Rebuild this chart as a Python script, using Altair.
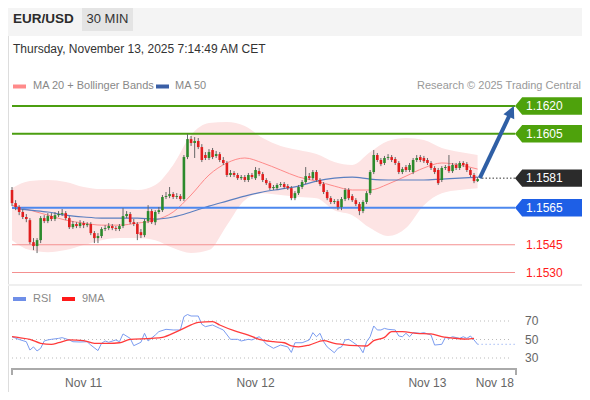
import altair as alt
import pandas as pd

FONT = "Liberation Sans"
W, H = 574, 384

# ---- 30-min candles (EUR/USD) ----
opens = [1.15746,1.15675,1.15654,1.15627,1.15600,1.15583,1.15464,1.15443,1.15475,1.15594,
         1.15578,1.15605,1.15589,1.15610,1.15616,1.15621,1.15594,1.15545,1.15562,1.15551,
         1.15567,1.15556,1.15562,1.15513,1.15486,1.15497,1.15535,1.15540,1.15551,1.15540,
         1.15535,1.15551,1.15605,1.15616,1.15572,1.15562,1.15518,1.15502,1.15578,1.15632,
         1.15572,1.15627,1.15637,1.15708,1.15713,1.15724,1.15708,1.15713,1.15697,1.15924,
         1.16021,1.16000,1.16011,1.15978,1.15935,1.15919,1.15962,1.15930,1.15940,1.15908,
         1.15892,1.15827,1.15838,1.15827,1.15810,1.15816,1.15800,1.15827,1.15810,1.15848,
         1.15832,1.15800,1.15783,1.15756,1.15756,1.15773,1.15778,1.15767,1.15756,1.15702,
         1.15729,1.15762,1.15789,1.15821,1.15810,1.15843,1.15800,1.15778,1.15735,1.15702,
         1.15681,1.15686,1.15654,1.15697,1.15746,1.15713,1.15691,1.15670,1.15632,1.15681,
         1.15729,1.15843,1.15935,1.15908,1.15892,1.15919,1.15924,1.15913,1.15892,1.15843,
         1.15870,1.15854,1.15843,1.15908,1.15924,1.15919,1.15908,1.15892,1.15865,1.15854,
         1.15800,1.15865,1.15875,1.15848,1.15881,1.15865,1.15892,1.15886,1.15854,1.15827,
         1.15794]
closes = [1.15675,1.15654,1.15627,1.15600,1.15589,1.15464,1.15443,1.15475,1.15594,1.15578,
          1.15605,1.15589,1.15610,1.15616,1.15621,1.15594,1.15545,1.15562,1.15551,1.15567,
          1.15556,1.15562,1.15513,1.15486,1.15497,1.15535,1.15540,1.15551,1.15540,1.15535,
          1.15551,1.15605,1.15616,1.15572,1.15562,1.15508,1.15502,1.15578,1.15632,1.15572,
          1.15627,1.15637,1.15708,1.15713,1.15724,1.15708,1.15713,1.15697,1.15924,1.16021,
          1.16000,1.16011,1.15978,1.15908,1.15919,1.15951,1.15924,1.15940,1.15908,1.15892,
          1.15827,1.15838,1.15827,1.15810,1.15816,1.15800,1.15827,1.15816,1.15854,1.15832,
          1.15800,1.15783,1.15756,1.15762,1.15773,1.15778,1.15762,1.15756,1.15702,1.15729,
          1.15762,1.15789,1.15821,1.15810,1.15843,1.15800,1.15778,1.15735,1.15702,1.15681,
          1.15686,1.15654,1.15697,1.15746,1.15702,1.15691,1.15670,1.15632,1.15681,1.15729,
          1.15843,1.15935,1.15908,1.15886,1.15919,1.15924,1.15908,1.15892,1.15843,1.15859,
          1.15854,1.15881,1.15908,1.15919,1.15908,1.15902,1.15892,1.15865,1.15843,1.15783,
          1.15865,1.15870,1.15848,1.15881,1.15865,1.15892,1.15881,1.15854,1.15827,1.15794,
          1.15805]
highs = [1.15762,1.15691,1.15664,1.15643,1.15616,1.15594,1.15486,1.15486,1.15605,1.15610,
         1.15621,1.15621,1.15627,1.15632,1.15643,1.15632,1.15605,1.15578,1.15572,1.15583,
         1.15578,1.15572,1.15572,1.15524,1.15513,1.15545,1.15556,1.15567,1.15562,1.15551,
         1.15562,1.15648,1.15632,1.15627,1.15589,1.15572,1.15535,1.15589,1.15664,1.15643,
         1.15637,1.15654,1.15719,1.15735,1.15762,1.15735,1.15729,1.15724,1.15935,1.16049,
         1.16038,1.16032,1.16027,1.15994,1.15951,1.15967,1.15973,1.15957,1.15951,1.15924,
         1.15902,1.15854,1.15848,1.15838,1.15827,1.15827,1.15838,1.15838,1.15870,1.15865,
         1.15843,1.15810,1.15794,1.15773,1.15783,1.15789,1.15789,1.15778,1.15767,1.15740,
         1.15773,1.15800,1.15870,1.15838,1.15854,1.15854,1.15810,1.15789,1.15746,1.15713,
         1.15697,1.15697,1.15708,1.15756,1.15756,1.15724,1.15702,1.15681,1.15691,1.15740,
         1.15854,1.15962,1.15946,1.15919,1.15930,1.15940,1.15935,1.15924,1.15902,1.15870,
         1.15881,1.15892,1.15919,1.15935,1.15935,1.15930,1.15919,1.15902,1.15875,1.15865,
         1.15875,1.15881,1.15935,1.15892,1.15892,1.15902,1.15902,1.15897,1.15865,1.15838,
         1.15816]
lows = [1.15659,1.15637,1.15610,1.15589,1.15572,1.15453,1.15421,1.15405,1.15459,1.15567,
        1.15567,1.15578,1.15578,1.15600,1.15605,1.15583,1.15535,1.15535,1.15540,1.15540,
        1.15540,1.15545,1.15502,1.15459,1.15459,1.15486,1.15524,1.15529,1.15529,1.15524,
        1.15524,1.15540,1.15594,1.15562,1.15551,1.15475,1.15486,1.15491,1.15567,1.15562,
        1.15556,1.15616,1.15627,1.15697,1.15702,1.15697,1.15697,1.15686,1.15686,1.15913,
        1.15984,1.15919,1.15967,1.15897,1.15908,1.15908,1.15913,1.15919,1.15897,1.15881,
        1.15816,1.15816,1.15816,1.15800,1.15800,1.15789,1.15789,1.15805,1.15800,1.15821,
        1.15789,1.15773,1.15746,1.15746,1.15746,1.15762,1.15751,1.15746,1.15691,1.15691,
        1.15719,1.15751,1.15778,1.15800,1.15800,1.15789,1.15767,1.15724,1.15691,1.15670,
        1.15670,1.15637,1.15637,1.15686,1.15691,1.15681,1.15659,1.15610,1.15621,1.15670,
        1.15719,1.15832,1.15897,1.15875,1.15881,1.15908,1.15897,1.15881,1.15832,1.15832,
        1.15843,1.15843,1.15832,1.15897,1.15897,1.15892,1.15881,1.15854,1.15832,1.15773,
        1.15789,1.15854,1.15838,1.15838,1.15854,1.15854,1.15870,1.15843,1.15816,1.15783,
        1.15789]

# ---- MA 20 + Bollinger Bands, MA 50 (sampled every 5 candles) ----
band_idx = [0,5,10,15,20,25,30,35,40,45,50,55,60,65,70,75,80,85,90,95,100,105,110,115,120,125,130]
bb_upper = [1.15756,1.15794,1.15800,1.15789,1.15762,1.15751,1.15751,1.15746,1.15773,1.15881,
            1.16043,1.16108,1.16114,1.16092,1.16027,1.15984,1.15962,1.15940,1.15897,1.15881,
            1.15951,1.16011,1.16027,1.16016,1.15973,1.15951,1.15935]
bb_lower = [1.15475,1.15421,1.15410,1.15421,1.15448,1.15475,1.15486,1.15486,1.15475,1.15432,
            1.15405,1.15421,1.15556,1.15691,1.15729,1.15719,1.15708,1.15702,1.15637,1.15610,
            1.15540,1.15497,1.15540,1.15664,1.15729,1.15746,1.15756]
ma20 = [1.15664,1.15637,1.15610,1.15583,1.15567,1.15556,1.15556,1.15567,1.15583,1.15627,
        1.15719,1.15827,1.15892,1.15919,1.15892,1.15854,1.15816,1.15794,1.15767,1.15746,
        1.15746,1.15778,1.15821,1.15865,1.15892,1.15881,1.15859]
ma50 = [1.15648,1.15637,1.15627,1.15610,1.15600,1.15594,1.15594,1.15594,1.15589,1.15600,
        1.15627,1.15659,1.15686,1.15713,1.15735,1.15751,1.15767,1.15794,1.15810,1.15816,
        1.15805,1.15800,1.15800,1.15800,1.15805,1.15810,1.15816]

# ---- RSI and its 9MA ----
rsi_idx = [0,2,4,5,6,7,8,9,10,11,13,14,16,17,19,21,22,24,25,26,27,29,30,31,33,34,36,37,38,40,
           41,43,45,47,48,49,50,52,53,54,56,58,59,61,63,64,66,67,69,70,71,73,75,77,78,79,81,83,84,85,
           86,87,88,90,91,92,93,94,95,97,98,99,100,101,102,103,104,105,107,108,109,110,111,112,114,115,
           117,118,120,121,122,123,125,126,127,128,129,130]
rsi_val = [53,50,47.6,38.6,42,37.6,40.5,48.4,49.5,50.2,51.2,52,49.5,47.6,47.3,47.6,44,38,45.9,48.4,
           47,49.5,47.6,56,51.2,43.3,47,56.7,48.4,54.8,58.5,61,60.3,60.3,74.7,77,75.4,75.4,66.4,63.9,
           65.7,62,60.3,50.2,50.2,48.4,50.2,49.5,53,49.5,45,40.5,44,42,36,46.5,46.5,49.5,57.4,53,
           56.7,47.6,42,35.7,40.5,42,49.5,50.2,47.6,42,35.7,47.6,53,64.6,60.3,60.3,62,61,60.3,53.8,
           53,56.7,53,57.4,56.7,57.4,54.8,44,44.8,52.3,51.2,53,51.2,53,51.2,53.8,49.5,44.8]
ma9_idx = [0,2,5,8,11,13,16,20,23,27,30,33,39,42,46,50,52,56,58,62,66,69,73,76,78,80,83,87,90,92,
           96,99,101,104,106,109,113,117,120,124,127,129]
ma9_val = [53,52,50.2,45.9,44.8,46.5,49.5,48.8,45.9,45.9,46.5,50.2,51.2,52.3,58.5,65.7,68.6,69.3,65.7,59.5,
           54.8,50.2,47.6,46.5,43,42,44,48.8,45.9,44.8,43.3,43,48.8,52.3,58.5,58.5,56.7,56,53,51.2,
           50.5,51.2]
rsi_grid = [70, 50, 30]

# ---- levels ----
green_levels = [1.1620, 1.1605]
last_price = [1.1581]
blue_levels = [1.1565]
red_levels = [1.1545, 1.1530]

# ---- x ticks ----
tick_idx = [20, 68, 116, 134.8]
tick_lab = ["Nov 11", "Nov 12", "Nov 13", "Nov 18"]

# ---------------- build ----------------
n = len(opens)
candles = pd.DataFrame({"i": list(range(n)), "open": opens, "close": closes, "high": highs, "low": lows})
bands = pd.DataFrame({"i": band_idx, "upper": bb_upper, "lower": bb_lower, "ma20": ma20, "ma50": ma50})
rsi_df = pd.DataFrame({"i": rsi_idx, "v": rsi_val})
ma9_df = pd.DataFrame({"i": ma9_idx, "v": ma9_val})

XS = alt.Scale(domain=[0, 141], range=[4, 509], nice=False, zero=False)
YP = alt.Scale(domain=[1.1520, 1.1630], range=[283, 79.5], nice=False, zero=False)
YR = alt.Scale(domain=[0, 100], range=[377.75, 285.25], nice=False, zero=False)


def xq(f):
    return alt.X(f, type="quantitative", scale=XS, axis=None)


def yp(f):
    return alt.Y(f, type="quantitative", scale=YP, axis=None)


def yr(f):
    return alt.Y(f, type="quantitative", scale=YR, axis=None)


one = pd.DataFrame({"a": [0]})


def box(x1, x2, y1, y2, color):
    return alt.Chart(one).mark_rect(color=color).encode(
        x=alt.value(x1), x2=alt.value(x2), y=alt.value(y1), y2=alt.value(y2))


def txt(s, x, y, size=11, color="#888", align="left", weight="normal"):
    return alt.Chart(pd.DataFrame({"t": [s]})).mark_text(
        font=FONT, fontSize=size, color=color, align=align, baseline="middle", fontWeight=weight
    ).encode(text="t:N", x=alt.value(x), y=alt.value(y))


def hline(y, x1, x2, color, width=1, dash=None):
    kw = dict(color=color, strokeWidth=width)
    if dash:
        kw["strokeDash"] = dash
    return alt.Chart(one).mark_rule(**kw).encode(
        x=alt.value(x1), x2=alt.value(x2), y=alt.value(y))


layers = []
# header
layers.append(box(0, W, 0, 28, "#f4f4f4"))
layers.append(box(74, 125, 0, 23, "#e4e4e4"))
layers.append(txt("EUR/USD", 5, 11, size=13.5, color="#2b2b2b", weight="bold"))
layers.append(txt("30 MIN", 99.5, 11, size=13, color="#333", align="center"))
layers.append(txt("Thursday, November 13, 2025 7:14:49 AM CET", 5, 41, size=12, color="#333"))
# legend
layers.append(box(5, 18, 76.5, 80.5, "#ff8a8a"))
layers.append(txt("MA 20 + Bollinger Bands", 25, 78))
layers.append(box(148, 161, 76.5, 80.5, "#3a5fa6"))
layers.append(txt("MA 50", 167, 78))
layers.append(txt("Research \u00a9 2025 Trading Central", 573, 78, color="#999", align="right"))

# bollinger band + MAs
layers.append(alt.Chart(bands).mark_area(color="#fde4e4", interpolate="monotone").encode(
    x=xq("i"), y=yp("upper"), y2=alt.Y2("lower")))
layers.append(alt.Chart(bands).mark_line(color="#ff8a8a", strokeWidth=1, interpolate="monotone").encode(
    x=xq("i"), y=yp("ma20")))
layers.append(alt.Chart(bands).mark_line(color="#5b7fc0", strokeWidth=1.2, interpolate="monotone").encode(
    x=xq("i"), y=yp("ma50")))

# level lines
layers.append(alt.Chart(pd.DataFrame({"p": green_levels})).mark_rule(color="#4b9e10", strokeWidth=2).encode(
    y=yp("p"), x=alt.value(4), x2=alt.value(507)))
layers.append(alt.Chart(pd.DataFrame({"p": blue_levels})).mark_rule(color="#4d88ee", strokeWidth=2).encode(
    y=yp("p"), x=alt.value(4), x2=alt.value(507)))
layers.append(alt.Chart(pd.DataFrame({"p": red_levels})).mark_rule(color="#f49090", strokeWidth=1.2).encode(
    y=yp("p"), x=alt.value(4), x2=alt.value(507)))
layers.append(alt.Chart(pd.DataFrame({"p": last_price})).mark_rule(color="#333", strokeWidth=1, strokeDash=[1.5, 2]).encode(
    y=yp("p"), x=alt.value(474), x2=alt.value(508)))

# candles
layers.append(alt.Chart(candles).mark_rule(color="#666", strokeWidth=1).encode(
    x=xq("i"), y=yp("low"), y2=alt.Y2("high")))
layers.append(alt.Chart(candles).mark_rule(strokeWidth=2.6, strokeCap="butt").encode(
    x=xq("i"), y=yp("open"), y2=alt.Y2("close"),
    color=alt.condition("datum.close >= datum.open", alt.value("#2c8a2c"), alt.value("#e01e1e"))))

# arrow
arrow = pd.DataFrame({"x1": [130.6], "y1": [1.1581], "x2": [139.3], "y2": [1.16166]})
layers.append(alt.Chart(arrow).mark_rule(color="#2f5fa5", strokeWidth=4, strokeCap="butt").encode(
    x=xq("x1"), y=yp("y1"), x2=alt.X2("x2"), y2=alt.Y2("y2")))
layers.append(alt.Chart(arrow).mark_point(shape="M0,-1L0.85,0.7L-0.85,0.7Z", size=196, filled=True,
                                         opacity=1, color="#2f5fa5", angle=25).encode(
    x=xq("x2"), y=yp("y2")))

# level label flags
FLAG = "M-1,0L-0.8,-0.24L1,-0.24L1,0.24L-0.8,0.24Z"


def flags(vals, color):
    d = pd.DataFrame({"p": vals, "lab": ["%.4f" % v for v in vals]})
    f = alt.Chart(d).mark_point(shape=FLAG, size=5184, filled=True, opacity=1, color=color, strokeWidth=0).encode(
        y=yp("p"), x=alt.value(543))
    t = alt.Chart(d).mark_text(font=FONT, fontSize=12, color="white", align="left", baseline="middle").encode(
        y=yp("p"), x=alt.value(518), text="lab:N")
    return [f, t]


layers += flags(green_levels, "#4ea20c")
layers += flags(last_price, "#2b2b2b")
layers += flags(blue_levels, "#1e5fe6")
rl = pd.DataFrame({"p": red_levels, "lab": ["%.4f" % v for v in red_levels]})
layers.append(alt.Chart(rl).mark_text(font=FONT, fontSize=12, color="#ff1a1a", align="left", baseline="middle").encode(
    y=yp("p"), x=alt.value(518), text="lab:N"))

# separator
layers.append(hline(277, 0, W, "#efefef", width=2))

# RSI panel
layers.append(box(5, 18, 289, 293, "#6f8fe8"))
layers.append(txt("RSI", 25, 291))
layers.append(box(54, 67, 289, 293, "#ff1a1a"))
layers.append(txt("9MA", 74, 291))
gdf = pd.DataFrame({"g": rsi_grid, "lab": [str(g) for g in rsi_grid]})
layers.append(alt.Chart(gdf).mark_rule(color="#bbb", strokeWidth=1, strokeDash=[1, 3]).encode(
    y=yr("g"), x=alt.value(4), x2=alt.value(504)))
layers.append(alt.Chart(gdf).mark_text(font=FONT, fontSize=12, color="#666", align="left", baseline="middle").encode(
    y=yr("g"), x=alt.value(517), text="lab:N"))
layers.append(alt.Chart(rsi_df).mark_line(color="#7b9cf0", strokeWidth=1).encode(x=xq("i"), y=yr("v")))
layers.append(alt.Chart(ma9_df).mark_line(color="#ff3b3b", strokeWidth=1.3, interpolate="monotone").encode(
    x=xq("i"), y=yr("v")))
ext = pd.DataFrame({"i": [rsi_idx[-1]], "i2": [140.5], "v": [rsi_val[-1]]})
layers.append(alt.Chart(ext).mark_rule(color="#7b9cf0", strokeWidth=1, strokeDash=[1, 3]).encode(
    x=xq("i"), x2=alt.X2("i2"), y=yr("v")))

# x axis
layers.append(hline(361, 4, 508, "#aaa", width=2))
layers.append(alt.Chart(one).mark_rule(color="#aaa", strokeWidth=2).encode(
    x=alt.value(4), y=alt.value(360), y2=alt.value(367)))
layers.append(alt.Chart(one).mark_rule(color="#aaa", strokeWidth=2).encode(
    x=alt.value(508), y=alt.value(360), y2=alt.value(367)))
tdf = pd.DataFrame({"i": tick_idx, "lab": tick_lab})
layers.append(alt.Chart(tdf).mark_text(font=FONT, fontSize=12, color="#666", align="center", baseline="middle").encode(
    x=xq("i"), y=alt.value(375), text="lab:N"))

chart = alt.layer(*layers).resolve_scale(y="independent").properties(
    width=W, height=H, autosize=alt.AutoSizeParams(type="none"), padding=0
).configure_view(stroke=None).configure(background="white")

chart.save("out.html", embed_options={"renderer": "svg", "actions": False})
